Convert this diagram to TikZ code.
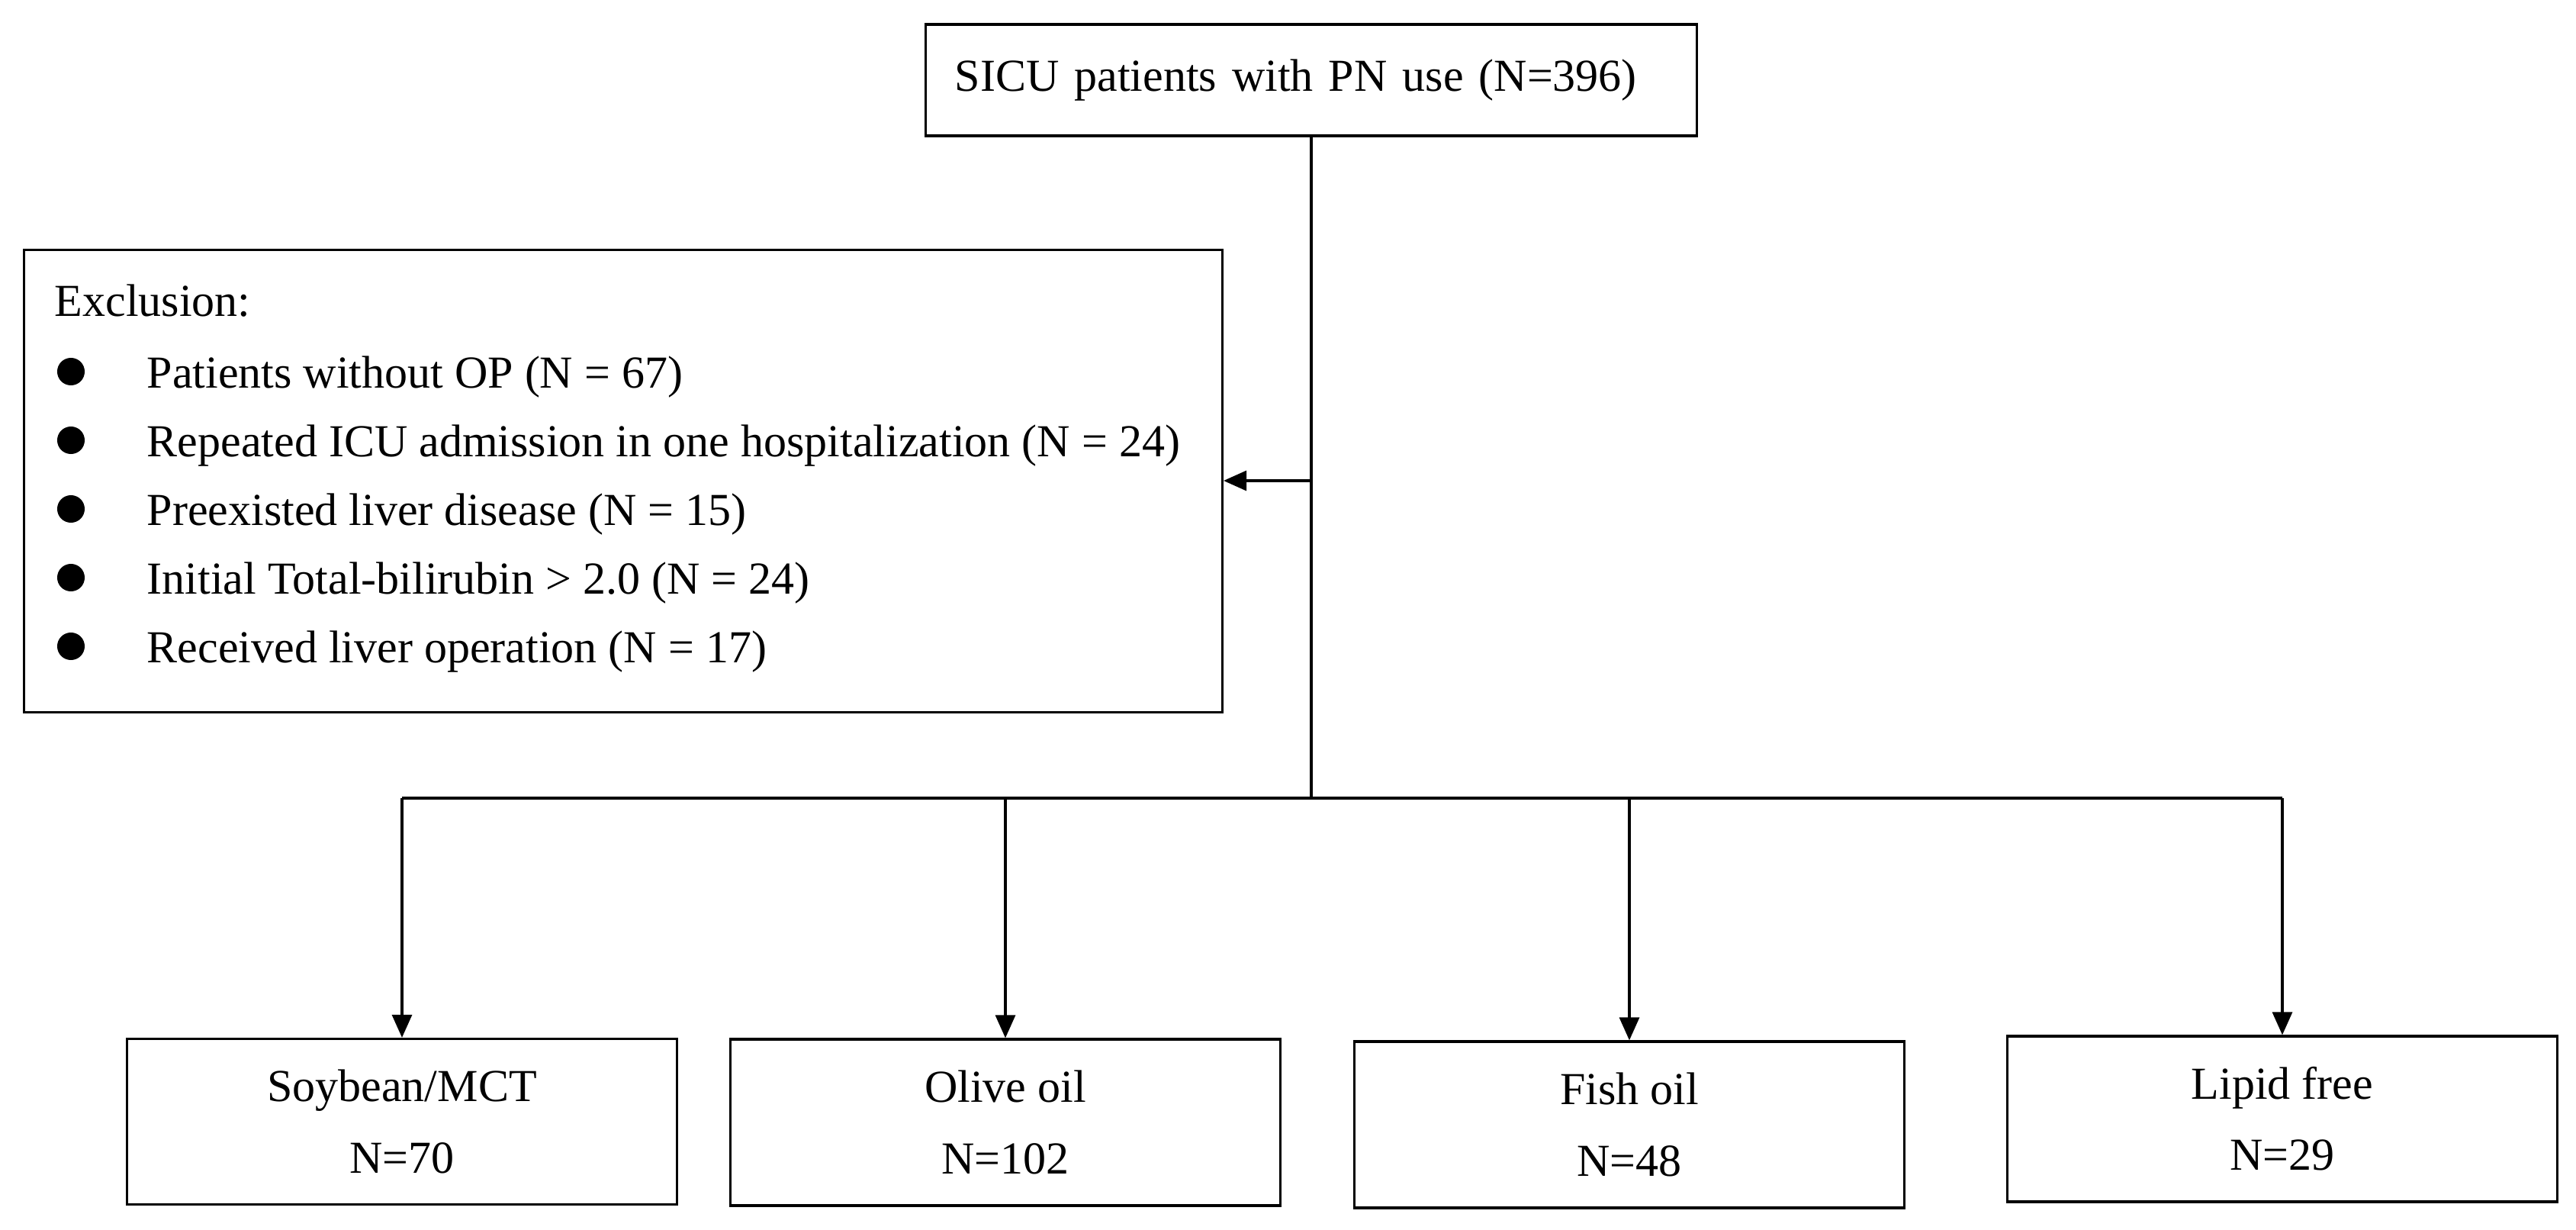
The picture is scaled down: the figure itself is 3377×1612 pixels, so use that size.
\documentclass[tikz,border=0pt]{standalone}
\usepackage{fontspec}
\setmainfont{Liberation Serif}
\usetikzlibrary{arrows.meta}
\begin{document}
\begin{tikzpicture}[x=0.01cm,y=-0.01cm,
  font=\fontsize{17.07pt}{26.5pt}\selectfont,
  box/.style={draw, line width=0.9pt, rectangle, inner sep=0pt},
  grp/.style={box, minimum width=7.2cm, minimum height=2.17cm, align=center},
  conn/.style={line width=0.9pt},
  arr/.style={conn, -{Triangle[length=0.3cm,width=0.26cm]}},
  item/.style={anchor=base west, inner sep=0pt},
  dot/.style={circle, fill, inner sep=0pt, minimum size=0.36cm}]
\useasboundingbox (0,0) rectangle (3377,1612);
% top box
\node[box, minimum height=1.46cm, text width=9.34cm, inner xsep=0.38cm, align=left] (top) at (1719,105) {SICU patients with PN use (N=396)};
% exclusion box
\node[box, minimum width=15.70cm, minimum height=6.05cm] (excl) at (817,630.5) {};
\node[item] (exh) at (71,414) {Exclusion:};
\node[item] (e1) at (192,508) {Patients without OP (N = 67)};
\node[item] (e2) at (192,598) {Repeated ICU admission in one hospitalization (N = 24)};
\node[item] (e3) at (192,688) {Preexisted liver disease (N = 15)};
\node[item] (e4) at (192,778) {Initial Total-bilirubin > 2.0 (N = 24)};
\node[item] (e5) at (192,868) {Received liver operation (N = 17)};
\node[dot] (d1) at (93,487) {};
\node[dot] (d2) at (93,577) {};
\node[dot] (d3) at (93,667) {};
\node[dot] (d4) at (93,757) {};
\node[dot] (d5) at (93,847) {};
% bottom boxes
\node[grp] (b1) at (527,1470) {Soybean/MCT\\N=70};
\node[grp, minimum height=2.18cm] (b2) at (1318,1471) {Olive oil\\N=102};
\node[grp, minimum height=2.18cm] (b3) at (2136,1474) {Fish oil\\N=48};
\node[grp] (b4) at (2992,1466.5) {Lipid free\\N=29};
% connectors
\coordinate (hb) at (1719,1046);
\coordinate (exj) at (1719,630);
\draw[conn] (top.south) -- (hb);
\draw[arr] (exj) -- (excl.east |- exj);
\draw[line width=1.3pt] (b1.north |- hb) -- (b4.north |- hb);
\foreach \b in {b1,b2,b3,b4} \draw[arr] (\b.north |- hb) -- (\b.north);
\end{tikzpicture}
\end{document}
